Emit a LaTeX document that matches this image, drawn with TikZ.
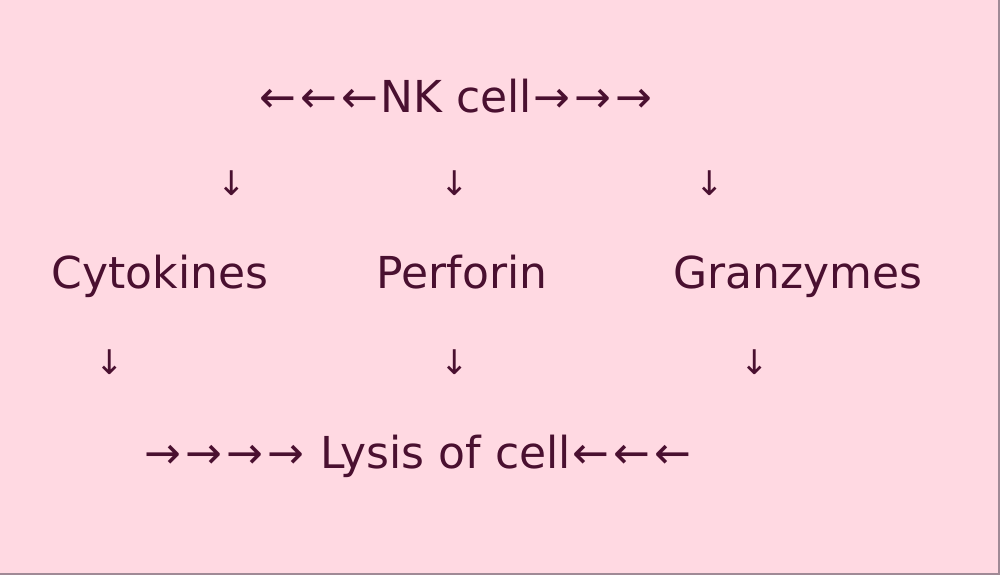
\documentclass[tikz,border=0pt]{standalone}
\usepackage{fontspec}
\setmainfont{DejaVu Sans}
\definecolor{bgpink}{HTML}{FFD9E2}
\definecolor{txt}{HTML}{4A1030}
\definecolor{edge}{HTML}{A08A96}
\newcommand{\myla}{\makebox[41pt]{←}}
\newcommand{\myra}{\makebox[41pt]{→}}
\begin{document}
\begin{tikzpicture}[x=1pt,y=-1pt,
  lbl/.style={text=txt,inner sep=0pt,anchor=base,font=\fontsize{44}{52}\selectfont},
  darr/.style={text=txt,inner sep=0pt,anchor=center,font=\fontsize{34}{40}\selectfont}]
\fill[bgpink] (0,0) rectangle (1000,575);
\useasboundingbox (0,0) rectangle (1000,575);
\draw[edge,line width=2pt] (0,574) -- (999,574) -- (999,0);
\node[lbl] (nk) at (456,113) {\myla\myla\myla NK cell\myra\myra\myra};
\node[darr] (d1) at (232,183) {↓};
\node[darr] (d2) at (455,183) {↓};
\node[darr] (d3) at (710,183) {↓};
\node[lbl] (cyt) at (160,288) {Cytokines};
\node[lbl] (per) at (462,288) {Perforin};
\node[lbl] (gra) at (798,288) {Granzymes};
\node[darr] (d4) at (110,362) {↓};
\node[darr] (d5) at (455,362) {↓};
\node[darr] (d6) at (755,362) {↓};
\node[lbl] (lys) at (418,468) {\myra\myra\myra\myra\ Lysis of cell\myla\myla\myla};
\end{tikzpicture}
\end{document}
